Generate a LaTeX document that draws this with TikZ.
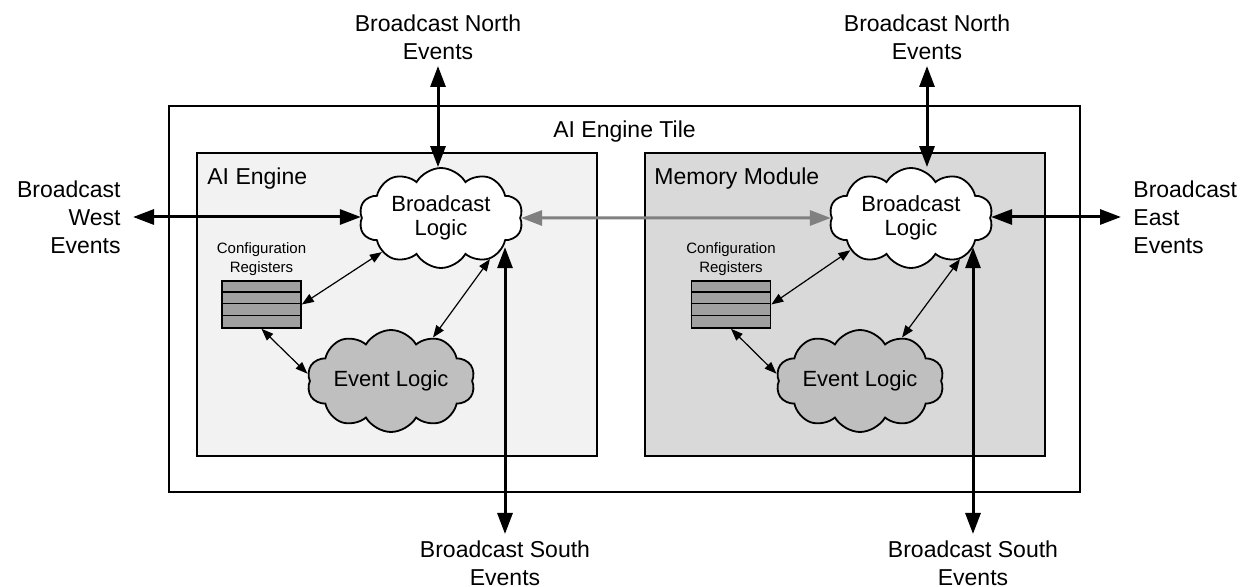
\documentclass[tikz,border=0pt]{standalone}
\usepackage{fontspec}
\setmainfont{Liberation Sans}
\usepackage{xcolor}
\usetikzlibrary{arrows.meta}
\usetikzlibrary{shapes.symbols}
\usetikzlibrary{positioning}
\definecolor{aiegray}{RGB}{242,242,242}
\definecolor{memgray}{RGB}{217,217,217}
\definecolor{evgray}{RGB}{191,191,191}
\definecolor{reggray}{RGB}{160,160,160}
\definecolor{linkgray}{RGB}{128,128,128}

\begin{document}
\begin{tikzpicture}[x=0.5pt,y=-0.5pt,
  font=\fontsize{11.5}{14}\selectfont,
  lbl/.style={align=center,inner xsep=6pt,inner ysep=3pt},
  blk/.style={draw,line width=1.2pt,inner sep=0pt},
  bcloud/.style={cloud,cloud puffs=10,cloud puff arc=120,cloud ignores aspect,draw,line width=0.9pt,fill=white,inner sep=0pt,
    minimum width=82pt,minimum height=50pt,align=center,font=\fontsize{11}{12}\selectfont},
  ecloud/.style={bcloud,fill=evgray,minimum width=84pt,minimum height=51pt},
  regs/.style={draw,line width=0.8pt,fill=reggray,minimum width=39.5pt,minimum height=23.5pt,inner sep=0pt},
  reglbl/.style={align=center,inner sep=1pt,font=\fontsize{7.5}{9.5}\selectfont},
  bigarrow/.style={line width=1.5pt,{Triangle[length=10.5pt,width=7.5pt]}-{Triangle[length=10.5pt,width=7.5pt]}},
  thinarrow/.style={line width=0.6pt,{Triangle[length=6pt,width=4.5pt]}-{Triangle[length=6pt,width=4.5pt]}}
  ]
\useasboundingbox (0,0) rectangle (1254,587);

% tile and modules
\node[blk,minimum width=455.5pt,minimum height=193pt] (tile) at (624.5,299) {};
\node[anchor=base] (tilelbl) at (624.5,138) {AI Engine Tile};
\node[blk,fill=aiegray,minimum width=200pt,minimum height=151.5pt] (aie) at (397,304.5) {};
\node[blk,fill=memgray,minimum width=200pt,minimum height=151.5pt] (mem) at (845,304.5) {};
\node[anchor=base west,inner sep=0pt] (aielbl) at (207,185) {AI Engine};
\node[anchor=base west,inner sep=0pt] (memlbl) at (654,185) {Memory Module};

% AI engine side
\node[bcloud] (bl1) at (441,218) {Broadcast\\Logic};
\node[ecloud] (ev1) at (391,381) {Event Logic};
\node[regs] (reg1) at (261.5,304.5) {};
\foreach \k in {1,2,3}
  \draw[line width=0.8pt] ([yshift={-\k*5.875pt}]reg1.north west) -- ([yshift={-\k*5.875pt}]reg1.north east);
\node[reglbl,above=1pt of reg1] (cfg1) {Configuration\\Registers};

% memory module side
\node[bcloud] (bl2) at (911,218) {Broadcast\\Logic};
\node[ecloud] (ev2) at (860,381) {Event Logic};
\node[regs] (reg2) at (731,304.5) {};
\foreach \k in {1,2,3}
  \draw[line width=0.8pt] ([yshift={-\k*5.875pt}]reg2.north west) -- ([yshift={-\k*5.875pt}]reg2.north east);
\node[reglbl,above=1pt of reg2] (cfg2) {Configuration\\Registers};

% outside labels
\node[lbl,anchor=south] (nlbl1) at (438,66) {Broadcast North\\Events};
\node[lbl,anchor=south] (nlbl2) at (927,66) {Broadcast North\\Events};
\node[lbl,anchor=north] (slbl1) at (505,534) {Broadcast South\\Events};
\node[lbl,anchor=north] (slbl2) at (973,534) {Broadcast South\\Events};
\node[lbl,align=right,anchor=east] (wlbl) at (133,217) {Broadcast\\West\\Events};
\node[lbl,align=left,anchor=west] (elbl) at (1121,217) {Broadcast\\East\\Events};

% connections
\draw[bigarrow] (nlbl1.south) -- (nlbl1.south |- bl1.north);
\draw[bigarrow] (nlbl2.south) -- (nlbl2.south |- bl2.north);
\draw[bigarrow] (slbl1.north) -- (slbl1.north |- bl1.-25);
\draw[bigarrow] (slbl2.north) -- (slbl2.north |- bl2.-25);
\draw[bigarrow] (wlbl.east) -- (wlbl.east -| bl1.west);
\draw[bigarrow] (elbl.west) -- (elbl.west -| bl2.east);
\draw[bigarrow,color=linkgray] (bl1.east) -- (bl2.west);

\draw[thinarrow] (reg1.east) -- (bl1.210);
\draw[thinarrow] (bl1.-40) -- (ev1.46);
\draw[thinarrow] (reg1.south) -- (ev1.175);
\draw[thinarrow] (reg2.east) -- (bl2.208);
\draw[thinarrow] (bl2.-40) -- (ev2.46);
\draw[thinarrow] (reg2.south) -- (ev2.175);
\end{tikzpicture}
\end{document}
